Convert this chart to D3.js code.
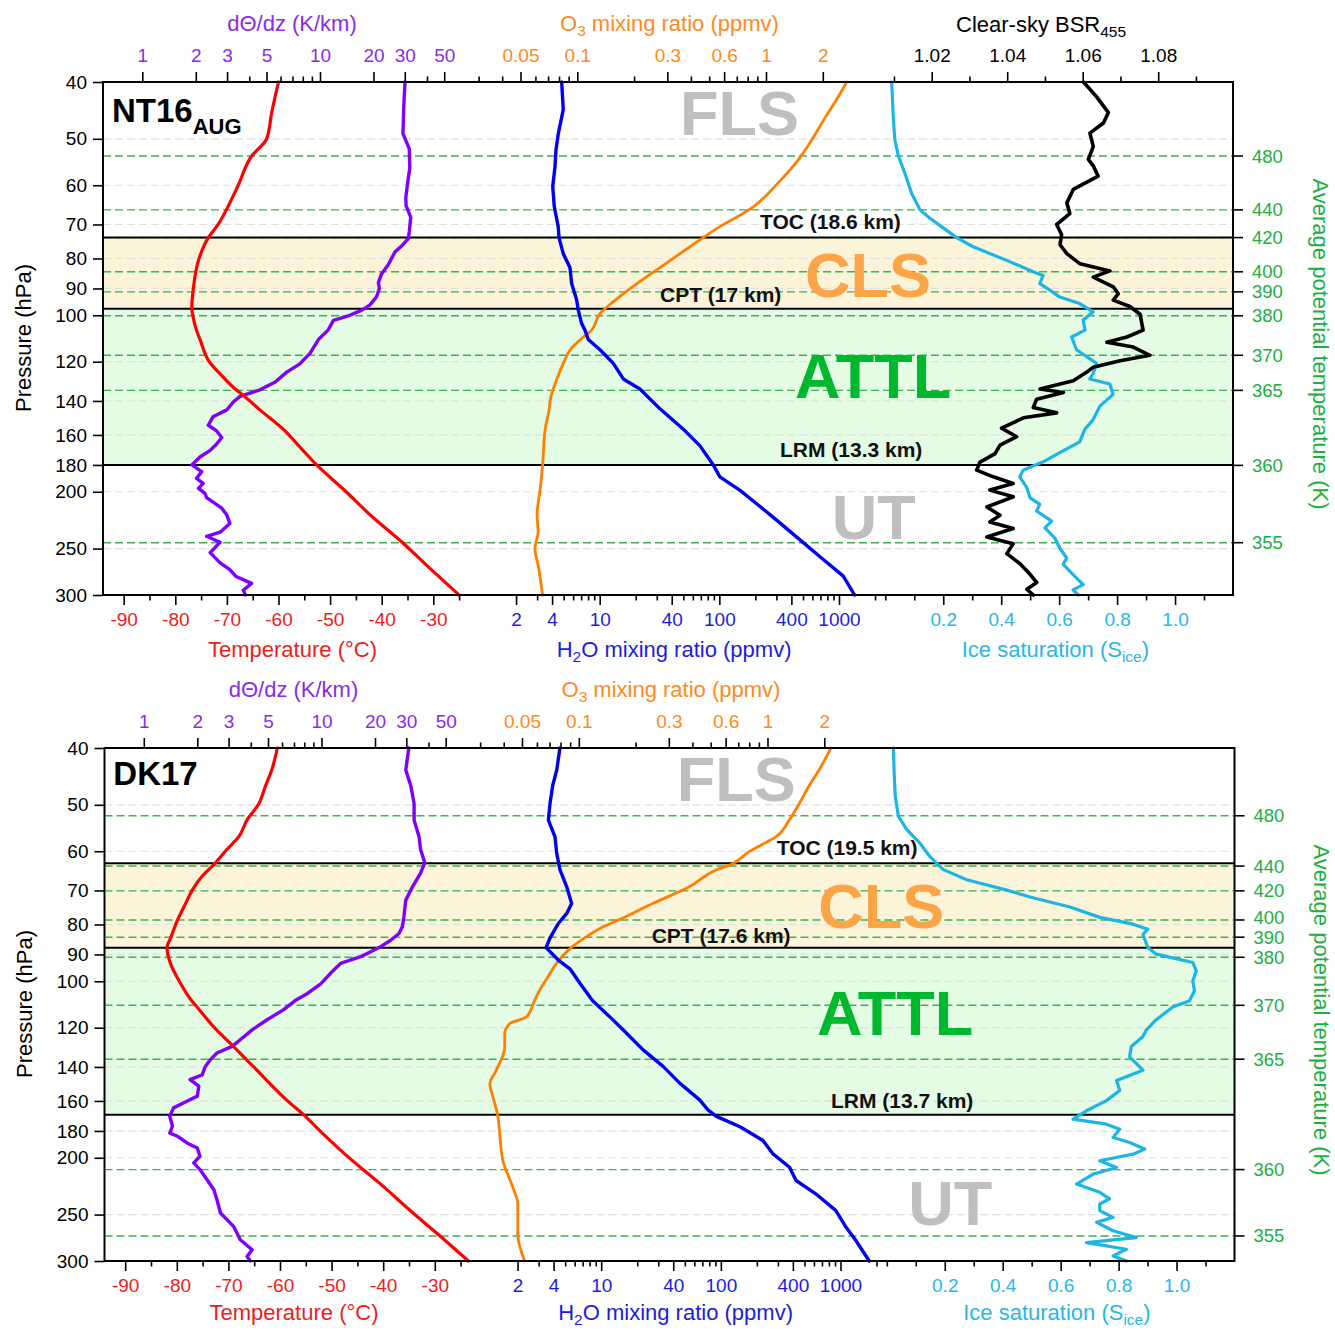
<!DOCTYPE html>
<html><head><meta charset="utf-8"><title>NT16 / DK17 profiles</title>
<script src="https://cdn.jsdelivr.net/npm/d3@7/dist/d3.min.js"></script>
<style>
html,body{margin:0;padding:0;background:#fff;}
svg text{font-family:"Liberation Sans",Arial,Helvetica,sans-serif;}
</style></head><body>
<svg id="chart" width="1335" height="1330"></svg>
<script>
// ---------------- DATA ----------------
const pressureTicks=[40,50,60,70,80,90,100,120,140,160,180,200,250,300];
const pressureGrid=[50,60,70,80,90,100,120,140,160,180,200,250];
const thetaTickLabels=[480,440,420,400,390,380,370,365,360,355];
const nt16ThetaPressure=[53.5,66.1,73.7,84.3,91.2,100.2,117.0,134.3,180.3,244.3];
const dk17ThetaPressure=[52.2,63.6,70.1,78.6,84.1,91.0,109.9,135.8,209.5,271.9];

const tempMajor=[-90,-80,-70,-60,-50,-40,-30];
const tempMinor=[-85,-75,-65,-55,-45,-35,-25];
const h2oMajor=[2,4,10,40,100,400,1000];
const h2oMinor=[3,5,6,7,8,9,20,30,50,60,70,80,90,200,300,500,600,700,800,900,2000];
const siceMajor=[0.2,0.4,0.6,0.8,1.0];
const siceMinor=[0,0.1,0.3,0.5,0.7,0.9,1.1];
const dthMajor=[1,2,3,5,10,20,30,50];
const dthMinor=[4,6,7,8,9,40];
const o3Major=[0.05,0.1,0.3,0.6,1,2];
const o3Minor=[0.03,0.04,0.06,0.07,0.08,0.09,0.2,0.4,0.5,0.7,0.8,0.9];
const bsrMajor=[1.02,1.04,1.06,1.08];
const bsrMinor=[1.01,1.03,1.05,1.07,1.09];

// layer boundaries (hPa) and labels
const nt16Bounds={toc:73.7,cpt:97.5,lrm:180.1};
const dk17Bounds={toc:62.9,cpt:87.7,lrm:168.9};
const nt16BoundLabels=["TOC (18.6 km)","CPT (17 km)","LRM (13.3 km)"];
const dk17BoundLabels=["TOC (19.5 km)","CPT (17.6 km)","LRM (13.7 km)"];
const regionNames=["FLS","CLS","ATTL","UT"];

// profiles: [pressure hPa, value]
const nt16Temperature=[[40,-60.0],[45,-61.3],[50,-62.3],[53.5,-65.2],[60,-67.8],[65,-69.7],[70,-71.7],[73.7,-73.6],[80,-75.4],[90,-76.5],[97,-76.8],[102,-76.4],[106,-75.9],[110,-75.2],[120,-73.4],[127,-70.9],[133.6,-68.4],[137.7,-66.5],[145,-63.6],[156.4,-59.1],[168,-55.8],[180,-52.6],[200,-46.9],[220,-42.0],[243.6,-36.1],[270,-30.7],[300,-25.0]];
const nt16DThetaDz=[[40,30.1],[44,29.6],[49,29.3],[52,31.8],[56,32.0],[60,31.0],[63,30.4],[65,30.5],[68,32.4],[72,31.8],[74,31.4],[76,29.0],[78,26.4],[82,24.2],[85,22.2],[88,21.3],[90,21.6],[93,20.8],[96,19.1],[98,17.2],[100,14.7],[102,11.9],[106,11.1],[110,9.8],[116,8.8],[121,7.7],[125,6.5],[130,5.6],[134,4.6],[137.5,3.55],[140.6,3.25],[145,2.99],[149,2.5],[154,2.35],[157.5,2.62],[161.6,2.8],[165.8,2.62],[170,2.41],[174.5,2.11],[180,1.9],[184.8,2.16],[189.7,2.02],[193.5,2.2],[197.3,2.07],[201.2,2.25],[204.6,2.3],[213.3,2.8],[219.2,2.99],[226.6,3.11],[234.4,2.74],[238.2,2.3],[243.9,2.74],[254,2.41],[264.4,2.74],[271.6,3.11],[279,3.37],[286.6,4.12],[294.4,3.7],[300,3.8]];
const nt16Ozone=[[40,2.68],[42.8,2.37],[46.1,2.05],[50.2,1.75],[54.8,1.45],[59.8,1.14],[65.3,0.857],[68,0.70],[70.6,0.57],[73.7,0.465],[78.5,0.35],[82.9,0.274],[88.3,0.207],[94.2,0.159],[99.3,0.132],[106,0.119],[110,0.104],[114.5,0.0917],[120.8,0.0843],[128.4,0.078],[138.9,0.072],[144.4,0.071],[156.4,0.0676],[180,0.0655],[198.7,0.0635],[219,0.0612],[234.4,0.062],[250,0.0596],[266.8,0.062],[300,0.0655]];
const nt16Water=[[40,4.81],[44.6,4.96],[49.1,4.5],[52.3,4.31],[55.8,4.23],[60.3,4.05],[65.2,4.17],[70.6,4.5],[73.7,4.57],[78.5,4.96],[82.9,5.64],[88.3,5.83],[94.2,6.42],[98,6.62],[103.3,7.07],[106,7.53],[110,8.03],[114.5,10.06],[120.8,13.0],[128.4,15.75],[133.6,21.7],[144.4,31.9],[156.4,50],[167,68.9],[180,89],[188.6,101],[198.7,148],[209.6,205],[223.6,301],[238.8,441],[258.1,694],[278.6,1086],[300,1349]];
const nt16IceSat=[[40,0.022],[46.4,0.028],[50.2,0.033],[53.5,0.045],[57.3,0.068],[62,0.091],[66.1,0.12],[68.3,0.154],[70.6,0.194],[73.7,0.246],[76.4,0.303],[80.6,0.419],[84.5,0.516],[85.5,0.545],[88.3,0.533],[90.6,0.568],[93.1,0.602],[95.5,0.671],[98.7,0.717],[101.9,0.683],[106,0.689],[108.9,0.643],[114.5,0.66],[120.8,0.729],[125.8,0.717],[128.4,0.706],[131,0.775],[136.4,0.786],[143,0.74],[150.8,0.717],[156.4,0.689],[164.4,0.671],[171.5,0.602],[177.8,0.545],[183.7,0.476],[188.6,0.464],[196.5,0.488],[204.6,0.499],[210.1,0.533],[215.7,0.522],[224.5,0.574],[230.5,0.551],[239.9,0.585],[249.4,0.602],[259.4,0.626],[266.1,0.614],[277,0.648],[288.1,0.683],[294,0.648],[300,0.666]];
const nt16BSR=[[40,1.0602],[42.4,1.0637],[45.1,1.0668],[47,1.0655],[48.9,1.0619],[51.5,1.0628],[54.2,1.0615],[55.6,1.0628],[57.9,1.0641],[61,1.0575],[64.3,1.0558],[67.1,1.0566],[70,1.0531],[72.8,1.0544],[75.8,1.054],[78.5,1.0558],[81.7,1.0593],[84,1.0672],[86.1,1.0628],[89.4,1.0681],[91.9,1.0694],[94.2,1.0681],[96.6,1.0725],[99.6,1.0752],[106,1.076],[108.9,1.0717],[111.2,1.0664],[113.3,1.0734],[117,1.0778],[119.5,1.0699],[122.6,1.0628],[125,1.0611],[129.3,1.0575],[133.6,1.0487],[135.4,1.0549],[139,1.0478],[143.7,1.0469],[146.7,1.0531],[149.6,1.0443],[155.8,1.0385],[161.1,1.0425],[166.5,1.0381],[172.2,1.0368],[178,1.0328],[183.7,1.0319],[188.6,1.0363],[193.6,1.0416],[198.7,1.0354],[204,1.0416],[212.3,1.0346],[219.3,1.0381],[225.2,1.0354],[231,1.0416],[238.8,1.0346],[245.2,1.0416],[255,1.0399],[265.4,1.0434],[276.3,1.046],[285.6,1.0478],[293.3,1.0452],[300,1.0469]];

const dk17Temperature=[[40,-60.5],[43.6,-61.6],[46.4,-62.8],[49.8,-64.1],[53.1,-66.4],[56.7,-68.0],[59.6,-70.3],[62.8,-72.5],[66.2,-75.1],[69.9,-77.0],[73.7,-78.3],[78.8,-79.9],[84.4,-81.2],[87.6,-81.9],[93.4,-81.2],[99.7,-79.6],[107.4,-77.3],[111.9,-75.6],[119.5,-72.9],[129.2,-69.0],[140,-65.1],[159.8,-58.6],[169,-55.4],[182.2,-51.6],[199.7,-46.7],[221.4,-40.6],[249,-34.1],[269.1,-29.6],[300,-23.5]];
const dk17DThetaDz=[[40,31.0],[43.6,29.8],[46.4,31.8],[49.8,33.2],[53.1,33.2],[56.7,35.4],[59.6,36.1],[62.8,38.1],[65.4,36.1],[69,32.5],[72.7,29.8],[77.6,29.1],[80.7,28.5],[82.9,27.3],[85.1,24.5],[87.6,21.1],[90.8,16.6],[93.2,12.8],[97,11.2],[101,9.9],[105,8.3],[107.6,7.2],[111.9,6.1],[116.3,4.94],[121,4.07],[125.8,3.49],[129.1,3.14],[132.5,2.58],[136,2.37],[139.7,2.22],[144.4,2.13],[147.1,1.82],[151,2.04],[157,2.0],[161.1,1.68],[164.4,1.47],[169.9,1.4],[176.7,1.45],[181.5,1.4],[183.8,1.55],[188.7,1.75],[192.5,2.0],[198.8,2.07],[204.1,1.91],[209.5,2.07],[218,2.27],[226.8,2.48],[235.8,2.58],[248.4,2.7],[261.8,3.2],[276,3.49],[287,4.07],[294.7,3.81],[300,3.98]];
const dk17Ozone=[[40,2.165],[43.6,1.877],[46.4,1.662],[49.8,1.471],[53.1,1.303],[56.7,1.107],[58.5,0.93],[60.1,0.80],[63.0,0.653],[64.6,0.533],[69.0,0.385],[73.7,0.246],[78.7,0.161],[80.8,0.134],[84.0,0.1094],[87.6,0.0912],[93.3,0.076],[98.3,0.0686],[103.6,0.062],[107.8,0.0583],[115.1,0.0527],[118.1,0.043],[122.9,0.0405],[129.5,0.0405],[141.9,0.0365],[149.5,0.0338],[157.6,0.0351],[169.4,0.0372],[182.1,0.0381],[202.2,0.0396],[224.6,0.0447],[239.7,0.0475],[269.8,0.0475],[300,0.0516]];
const dk17Water=[[40,4.52],[43.6,4.25],[46.4,3.93],[49.8,3.73],[53.1,3.62],[56.7,4.11],[60.5,4.25],[64.5,4.52],[69,5.15],[73.7,5.66],[76.6,5.15],[79.7,4.38],[84.4,3.73],[87.6,3.46],[92,4.38],[95.2,5.48],[100.8,6.64],[107.8,8.45],[115,11.8],[121.1,15.3],[130.9,22.4],[139.7,32.9],[149.2,45.3],[159.3,66.5],[165.7,78],[170,91.8],[177.1,144.6],[186.9,224.8],[197,272.7],[207.6,375],[218.7,425],[230.4,621],[246.1,915],[262.6,1110],[276.5,1340],[300,1740]];
const dk17IceSat=[[40,0.023],[43.6,0.025],[48.3,0.029],[52.3,0.04],[55.1,0.069],[58.2,0.115],[61.3,0.149],[64.5,0.195],[67.1,0.276],[69.9,0.414],[71.8,0.494],[74.7,0.632],[77.8,0.735],[79.9,0.85],[81.5,0.901],[83.2,0.884],[87.6,0.901],[89.9,0.93],[92.9,1.056],[96,1.068],[99.9,1.056],[103.8,1.062],[107.9,1.045],[110.6,0.987],[116.3,0.93],[121,0.896],[124.2,0.884],[129.2,0.844],[134.5,0.838],[141.8,0.884],[147.6,0.793],[153.5,0.804],[159.8,0.758],[166.3,0.689],[171.8,0.643],[175.3,0.758],[178.8,0.804],[184.7,0.781],[188.4,0.838],[193.3,0.89],[197.2,0.85],[202.4,0.735],[207.8,0.793],[213.3,0.712],[221.8,0.655],[229.1,0.735],[235.1,0.769],[239.8,0.735],[246.2,0.735],[252.7,0.781],[257.8,0.724],[266.4,0.781],[273.6,0.861],[279.1,0.689],[286.5,0.827],[294.1,0.781],[300,0.827]];

// ---------------- STYLE / LAYOUT ----------------
const COL={temp:'#ff0000',tempTxt:'#ee1c1c',dth:'#7f00ff',dthTxt:'#8a2be8',o3:'#ff7f00',o3Txt:'#ff8a1c',
  h2o:'#0000f0',h2oTxt:'#1c1ce0',sice:'#1db5e6',siceTxt:'#29b7e6',bsr:'#000',thetaTxt:'#1cae3f',
  thetaDash:'#36b54c',grid:'#e0e0e0',cls:'#fcf4d8',attl:'#e4fbe4',clsTxt:'#fba548',attlTxt:'#00b82e',gray:'#bfbfbf'};
const FRAME={x0:103,x1:1233,y0:82,y1:595};
const TICK=19, TITLE=22;

const svg=d3.select('#chart');

function styleAxis(sel,color){
  sel.select('.domain').remove();
  sel.selectAll('.tick line').attr('stroke','#000').attr('stroke-width',1.6);
  sel.selectAll('.tick text').attr('fill',color).attr('font-size',TICK+'px')
     .attr('font-family','"Liberation Sans",Arial,sans-serif');
}

function drawPanel(P){
  const g=svg.append('g').attr('transform',`translate(${P.dx},${P.dy})`);
  const {x0,x1,y0,y1}=FRAME;
  const y=d3.scaleLog().domain([40,300]).range([y0,y1]);
  const xT=d3.scaleLinear().domain([-90,-30]).range([123.7,433.3]);
  const xW=d3.scaleLog().domain([10,1000]).range([599.7,839]);
  const xS=d3.scaleLinear().domain([0,1.2]).range([885.3,1233]);
  const xD=d3.scaleLog().domain([1,10]).range([142.3,320]);
  const xO=d3.scaleLog().domain([0.1,1]).range([577.3,766]);
  const xB=d3.scaleLinear().domain([1.0,1.1]).range([856.2,1233.7]);
  const B=P.bounds;

  // layer fills
  g.append('rect').attr('x',x0).attr('width',x1-x0).attr('y',y(B.toc)).attr('height',y(B.cpt)-y(B.toc)).attr('fill',COL.cls);
  g.append('rect').attr('x',x0).attr('width',x1-x0).attr('y',y(B.cpt)).attr('height',y(B.lrm)-y(B.cpt)).attr('fill',COL.attl);

  // pressure grid
  g.append('g').selectAll('line').data(pressureGrid).join('line')
    .attr('x1',x0).attr('x2',x1).attr('y1',d=>y(d)).attr('y2',d=>y(d))
    .attr('stroke',COL.grid).attr('stroke-width',1.2).attr('stroke-dasharray','8,4');
  // theta dashed levels
  g.append('g').selectAll('line').data(P.thetaP).join('line')
    .attr('x1',x0).attr('x2',x1).attr('y1',d=>y(d)).attr('y2',d=>y(d))
    .attr('stroke',COL.thetaDash).attr('stroke-width',1.4).attr('stroke-dasharray','8,4');
  // boundary lines
  g.append('g').selectAll('line').data([B.toc,B.cpt,B.lrm]).join('line')
    .attr('x1',x0).attr('x2',x1).attr('y1',d=>y(d)).attr('y2',d=>y(d))
    .attr('stroke','#000').attr('stroke-width',2);

  // big region labels
  const regColors=[COL.gray,COL.clsTxt,COL.attlTxt,COL.gray];
  g.append('g').selectAll('text').data(regionNames).join('text')
    .attr('x',(d,i)=>P.regionPos[i][0]).attr('y',(d,i)=>P.regionPos[i][1])
    .attr('font-size','63px').attr('font-weight','bold').attr('fill',(d,i)=>regColors[i]).text(d=>d);

  // profiles
  const mk=(sx,curve)=>d3.line().curve(curve).x(d=>sx(d[1])).y(d=>y(d[0]));
  const drawLine=(data,sx,color,w,curve)=>g.append('path').datum(data).attr('d',mk(sx,curve||d3.curveLinear))
      .attr('fill','none').attr('stroke',color).attr('stroke-width',w)
      .attr('stroke-linejoin','round').attr('stroke-linecap','round');
  drawLine(P.dth,xD,COL.dth,3.4);
  drawLine(P.temp,xT,COL.temp,3.2,d3.curveMonotoneY);
  drawLine(P.o3,xO,COL.o3,2.8,d3.curveMonotoneY);
  drawLine(P.h2o,xW,COL.h2o,3.4);
  drawLine(P.sice,xS,COL.sice,3.2);
  if(P.bsr) drawLine(P.bsr,xB,COL.bsr,3.6);

  // boundary labels
  g.append('g').selectAll('text').data(P.boundLabels).join('text')
    .attr('x',(d,i)=>P.boundPos[i][0]).attr('y',(d,i)=>P.boundPos[i][1])
    .attr('font-size','21px').attr('font-weight','bold').attr('fill','#111').text(d=>d);

  // panel name
  const t=g.append('text').attr('x',P.namePos[0]).attr('y',P.namePos[1]).attr('font-size','33px').attr('font-weight','bold').attr('fill','#000');
  t.append('tspan').text(P.name);
  if(P.sub) t.append('tspan').attr('font-size','22px').attr('dy',12.5).text(P.sub);

  // frame
  g.append('rect').attr('x',x0).attr('y',y0).attr('width',x1-x0).attr('height',y1-y0)
    .attr('fill','none').attr('stroke','#000').attr('stroke-width',2);

  // left pressure axis
  g.append('g').attr('transform',`translate(${x0},0)`)
    .call(d3.axisLeft(y).tickValues(pressureTicks).tickSize(10).tickPadding(6).tickFormat(d=>String(d)))
    .call(s=>styleAxis(s,'#000'));

  // right theta axis
  const rt=g.append('g');
  rt.selectAll('line').data(P.thetaP).join('line')
    .attr('x1',x1).attr('x2',x1+10).attr('y1',d=>y(d)).attr('y2',d=>y(d)).attr('stroke','#000').attr('stroke-width',1.6);
  rt.selectAll('text').data(P.thetaP).join('text')
    .attr('x',x1+19).attr('y',(d,i)=>y(d)+(P.thetaNudge[i]||0)).attr('dy','0.35em').attr('font-size','18.5px')
    .attr('fill',COL.thetaTxt).text((d,i)=>thetaTickLabels[i]);

  // bottom axes
  const bottom=(sc,maj,min,fmt,color)=>{
    g.append('g').attr('transform',`translate(0,${y1})`)
      .call(d3.axisBottom(sc).tickValues(min).tickSize(5.5).tickFormat(''))
      .call(s=>styleAxis(s,color));
    g.append('g').attr('transform',`translate(0,${y1})`)
      .call(d3.axisBottom(sc).tickValues(maj).tickSize(10).tickPadding(8).tickFormat(fmt))
      .call(s=>styleAxis(s,color));
  };
  bottom(xT,tempMajor,tempMinor,d=>String(d),COL.tempTxt);
  bottom(xW,h2oMajor,h2oMinor,d=>String(d),COL.h2oTxt);
  bottom(xS,siceMajor,siceMinor,d3.format('.1f'),COL.siceTxt);

  // top axes
  const top=(sc,maj,min,fmt,color)=>{
    g.append('g').attr('transform',`translate(0,${y0})`)
      .call(d3.axisTop(sc).tickValues(min).tickSize(5.5).tickFormat(''))
      .call(s=>styleAxis(s,color));
    g.append('g').attr('transform',`translate(0,${y0})`)
      .call(d3.axisTop(sc).tickValues(maj).tickSize(10).tickPadding(10).tickFormat(fmt))
      .call(s=>styleAxis(s,color));
  };
  top(xD,dthMajor,dthMinor,d=>String(d),COL.dthTxt);
  top(xO,o3Major,o3Minor,d=>String(d),COL.o3Txt);
  if(P.bsr) top(xB,bsrMajor,bsrMinor,d3.format('.2f'),'#000');

  // axis titles
  const fs=TITLE+'px', sub='15.5px', bY=P.bottomTitleY;
  g.append('text').attr('x',292).attr('y',31).attr('text-anchor','middle').attr('font-size',fs).attr('fill',COL.dthTxt).text('d\u0398/dz (K/km)');
  const o3t=g.append('text').attr('x',560).attr('y',31).attr('font-size',fs).attr('fill',COL.o3Txt);
  o3t.append('tspan').text('O');
  o3t.append('tspan').attr('font-size',sub).attr('dy',5).text('3');
  o3t.append('tspan').attr('dy',-5).text(' mixing ratio (ppmv)');
  if(P.bsr){
    const bt=g.append('text').attr('x',956).attr('y',32).attr('font-size',fs).attr('fill','#000');
    bt.append('tspan').text('Clear-sky BSR');
    bt.append('tspan').attr('font-size',sub).attr('dy',5).text('455');
  }
  g.append('text').attr('x',292.5).attr('y',bY).attr('text-anchor','middle').attr('font-size',fs).attr('fill',COL.tempTxt).text('Temperature (\u00B0C)');
  const ht=g.append('text').attr('x',556.7).attr('y',bY).attr('font-size',fs).attr('fill',COL.h2oTxt);
  ht.append('tspan').text('H');
  ht.append('tspan').attr('font-size',sub).attr('dy',5).text('2');
  ht.append('tspan').attr('dy',-5).text('O mixing ratio (ppmv)');
  const st=g.append('text').attr('x',961.7).attr('y',bY).attr('font-size',fs).attr('fill',COL.siceTxt);
  st.append('tspan').text('Ice saturation (S');
  st.append('tspan').attr('font-size',sub).attr('dy',5).text('ice');
  st.append('tspan').attr('dy',-5).text(')');
  g.append('text').attr('transform','translate(23,338) rotate(-90)').attr('text-anchor','middle')
    .attr('dominant-baseline','central').attr('font-size',fs).attr('fill','#000').text('Pressure (hPa)');
  g.append('text').attr('transform','translate(1320,344) rotate(90)').attr('text-anchor','middle')
    .attr('dominant-baseline','central').attr('font-size',fs).attr('fill',COL.thetaTxt).text('Average potential temperature (K)');
}

drawPanel({dx:0,dy:0,name:'NT16',sub:'AUG',namePos:[112,121.7],bounds:nt16Bounds,thetaP:nt16ThetaPressure,thetaNudge:[],
  boundLabels:nt16BoundLabels,boundPos:[[760,228.5],[660,302],[780,456.7]],
  regionPos:[[680,135],[805,296.7],[795,398.3],[831.7,539.3]],bottomTitleY:657,
  temp:nt16Temperature,dth:nt16DThetaDz,o3:nt16Ozone,h2o:nt16Water,sice:nt16IceSat,bsr:nt16BSR});
drawPanel({dx:1.5,dy:666,name:'DK17',sub:null,namePos:[111.8,119],bounds:dk17Bounds,thetaP:dk17ThetaPressure,thetaNudge:[0,0,0,-2.5,0,0,0,0,0,0],
  boundLabels:dk17BoundLabels,boundPos:[[775.2,189],[650.2,276.7],[829.5,442.3]],
  regionPos:[[675.2,134.7],[816.8,262.3],[815.5,369],[906.8,559]],bottomTitleY:654,
  temp:dk17Temperature,dth:dk17DThetaDz,o3:dk17Ozone,h2o:dk17Water,sice:dk17IceSat,bsr:null});
</script>
</body></html>
